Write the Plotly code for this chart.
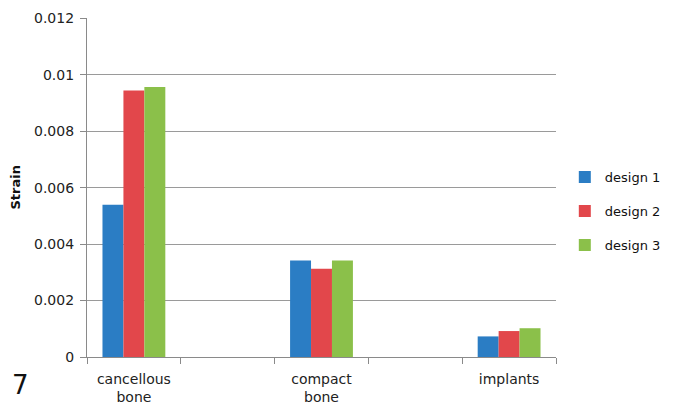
import plotly.graph_objects as go

categories = ["cancellous<br>bone", " ", "compact<br>bone", "  ", "implants"]
design1 = [0.00540, None, 0.00342, None, 0.00073]
design2 = [0.00945, None, 0.00313, None, 0.00092]
design3 = [0.00957, None, 0.00342, None, 0.00102]
series_names = ["design 1", "design 2", "design 3"]
colors = ["#2B7DC4", "#E2474B", "#8BC04A"]
y_ticks = [0, 0.002, 0.004, 0.006, 0.008, 0.01, 0.012]
y_ticktext = ["0", "0.002", "0.004", "0.006", "0.008", "0.01", "0.012"]

FONT = "DejaVu Sans"

fig = go.Figure()
for i, (name, vals) in enumerate(zip(series_names, [design1, design2, design3])):
    fig.add_trace(go.Bar(
        x=categories, y=vals, name=name,
        marker=dict(color=colors[i], line=dict(width=0)),
        legendgroup=name,
    ))

fig.update_layout(
    width=674, height=410,
    margin=dict(l=87, r=118, t=18, b=53, autoexpand=False),
    paper_bgcolor="white", plot_bgcolor="white",
    barmode="group", bargap=0.33, bargroupgap=0,
    font=dict(family=FONT, size=14, color="#222"),
    showlegend=True,
    legend=dict(
        xref="container", yref="container",
        x=0.838, y=0.485, xanchor="left", yanchor="middle",
        font=dict(family=FONT, size=13, color="#111"),
        tracegroupgap=14, itemwidth=30,
    ),
    xaxis=dict(
        type="category", categoryorder="array", categoryarray=categories,
        showline=True, linecolor="#8a8a8a", linewidth=1.2,
        ticks="outside", tickson="boundaries", ticklen=6, tickcolor="#8a8a8a",
        showgrid=False, tickfont=dict(family=FONT, size=14, color="#222"),
        ticklabelstandoff=9,
    ),
    yaxis=dict(
        range=[0, 0.01202], tickvals=y_ticks, ticktext=y_ticktext,
        showline=True, linecolor="#8a8a8a", linewidth=1.2,
        ticks="outside", ticklen=6, tickcolor="#8a8a8a",
        showgrid=True, gridcolor="#9a9a9a", gridwidth=1,
        zeroline=False, ticklabelstandoff=3,
        tickfont=dict(family=FONT, size=14, color="#222"),
    ),
    annotations=[
        dict(text="<b>Strain</b>", textangle=-90, x=0, xref="paper", xanchor="center",
             xshift=-72, y=0.5, yref="paper", yanchor="middle", showarrow=False,
             font=dict(family=FONT, size=13, color="#111")),
        dict(text="7", x=0, xref="paper", xshift=-67, xanchor="center",
             y=-0.083, yref="paper", yanchor="middle", showarrow=False,
             font=dict(family=FONT, size=26, color="#111")),
    ],
)

fig.write_html("out.html")
